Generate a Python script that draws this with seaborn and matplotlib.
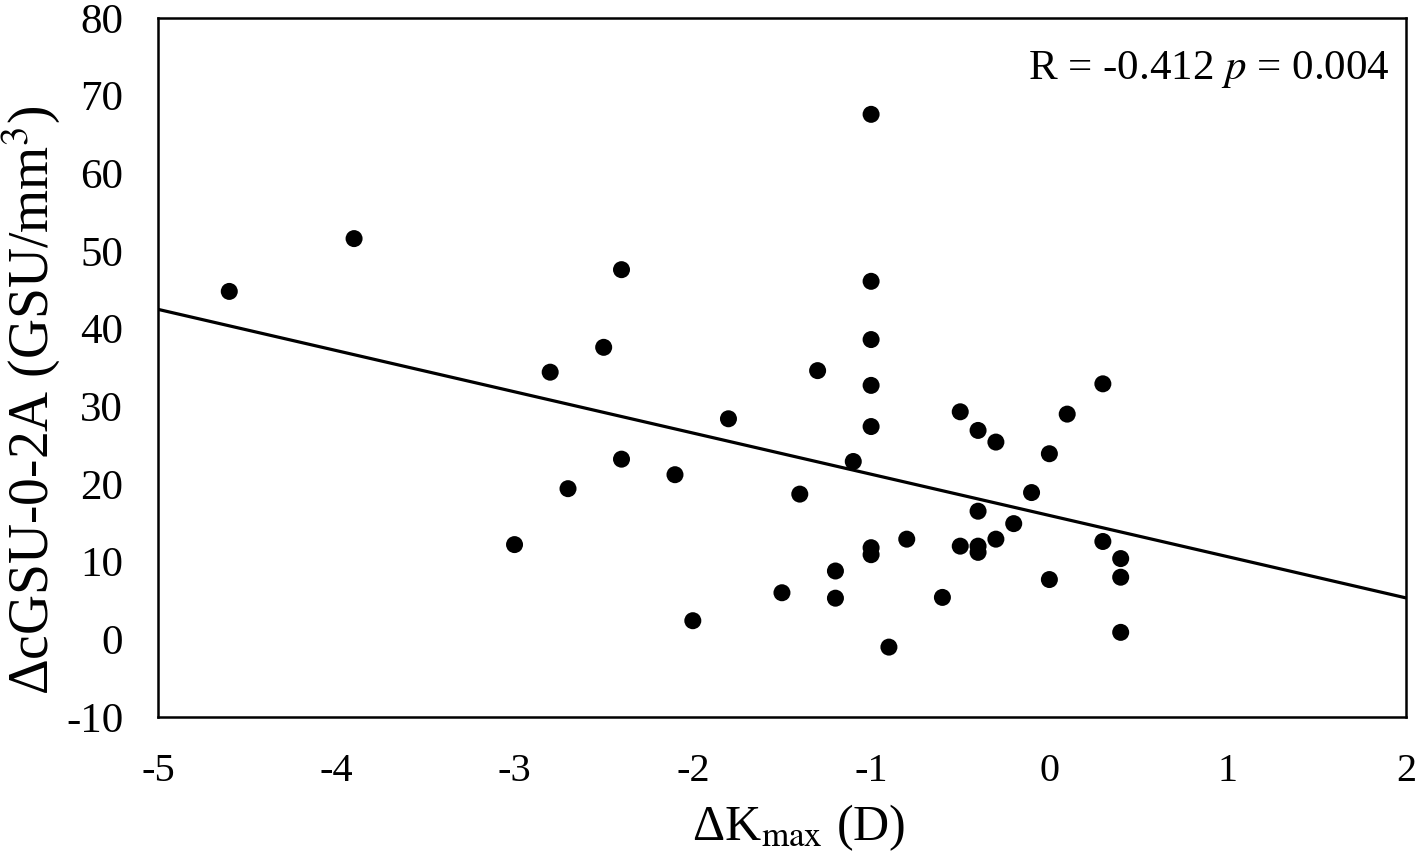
import matplotlib
matplotlib.use('Agg')

import numpy as np
import pandas as pd
import seaborn as sns
import matplotlib.pyplot as plt

# Delta K max (D) vs Delta cGSU-0-2A (GSU/mm3)
dkmax = [-4.6, -3.9, -3.0, -2.8, -2.7, -2.5, -2.4, -2.4, -2.1, -2.0,
         -1.8, -1.5, -1.4, -1.3, -1.2, -1.2, -1.1, -1.0, -1.0, -1.0,
         -1.0, -1.0, -1.0, -1.0, -0.9, -0.8, -0.6, -0.5, -0.5, -0.4,
         -0.4, -0.4, -0.4, -0.3, -0.3, -0.2, -0.1, 0.0, 0.0, 0.1,
         0.3, 0.3, 0.4, 0.4, 0.4]
dcgsu = [44.8, 51.6, 12.2, 34.4, 19.4, 37.6, 47.6, 23.2, 21.2, 2.4,
         28.4, 6.0, 18.7, 34.6, 8.8, 5.3, 22.9, 67.6, 46.1, 38.6,
         32.7, 27.4, 11.8, 10.9, -1.0, 12.9, 5.4, 29.3, 12.0, 26.9,
         16.5, 12.0, 11.2, 25.4, 12.9, 14.9, 18.9, 23.9, 7.7, 29.0,
         32.9, 12.6, 10.4, 8.0, 0.9]

annot = "R = -0.412 $p$ = 0.004"

df = pd.DataFrame({"dk": dkmax, "dc": dcgsu})

sns.set_style("white")
plt.rcParams['font.family'] = ['Liberation Serif', 'DejaVu Serif']
plt.rcParams['mathtext.fontset'] = 'stix'
plt.rcParams['axes.unicode_minus'] = False
plt.rcParams['text.color'] = 'black'
plt.rcParams['axes.labelcolor'] = 'black'
plt.rcParams['xtick.color'] = 'black'
plt.rcParams['ytick.color'] = 'black'

fig = plt.figure(figsize=(14.18, 8.67), dpi=100)
ax = fig.add_axes([0.1114, 0.173, 0.8801, 0.8062])
ax.set_xlim(-5, 2)
ax.set_ylim(-10, 80)

sns.regplot(data=df, x="dk", y="dc", ax=ax, ci=None, truncate=False,
            scatter_kws={"s": 150, "color": "black", "edgecolor": "none", "alpha": 1},
            line_kws={"color": "black", "lw": 2.3})

ax.set_xlim(-5, 2)
ax.set_ylim(-10, 80)
ax.set_xticks(np.arange(-5, 3, 1))
ax.set_yticks(np.arange(-10, 90, 10))
ax.tick_params(axis='x', length=0, labelsize=29, pad=26)
ax.tick_params(axis='y', length=0, labelsize=31, pad=25)
for s in ax.spines.values():
    s.set_color("black")
    s.set_linewidth(1.8)

ax.set_xlabel(r"ΔK$_{\mathrm{max}}$ (D)", fontsize=36)
ax.set_ylabel(r"ΔcGSU-0-2A (GSU/mm$^3$)", fontsize=40)
ax.xaxis.set_label_coords(0.513, -0.122)
ax.yaxis.set_label_coords(-0.077, 0.453)
ax.text(0.987, 0.955, annot, transform=ax.transAxes, ha="right", va="top", fontsize=31)

plt.savefig("out.png", dpi=100)
